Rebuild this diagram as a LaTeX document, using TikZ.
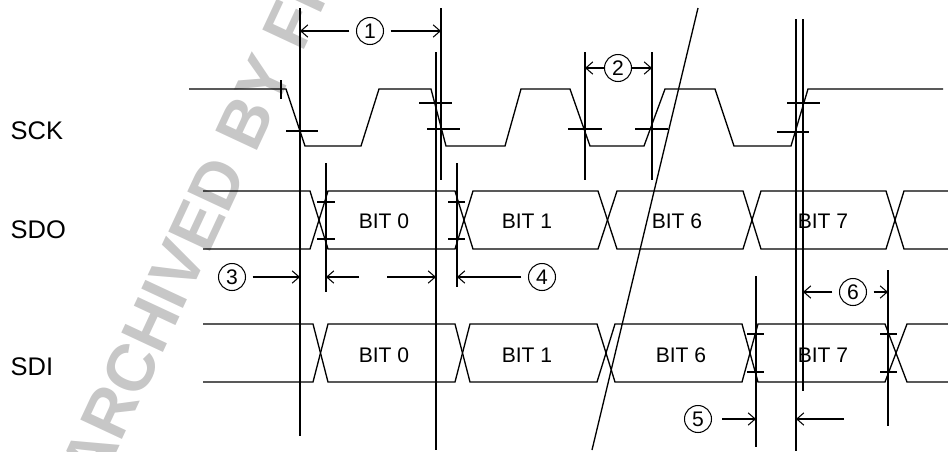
\documentclass[tikz,border=0pt]{standalone}
\usepackage{fontspec}
\setmainfont{Liberation Sans}
\usetikzlibrary{arrows.meta}

\begin{document}
\begin{tikzpicture}[x=0.02cm,y=-0.02cm,line width=0.75pt,
	num/.style={circle,draw,line width=0.6pt,minimum size=0.54cm,inner sep=0pt,outer sep=4pt,font=\fontsize{12}{12}\selectfont},
	bit/.style={font=\fontsize{12}{12}\selectfont},
	sig/.style={anchor=west,inner sep=0pt,font=\fontsize{14.5}{14.5}\selectfont},
	dim/.style={-{Straight Barb[length=4pt,width=7pt]},line width=0.6pt},
	wm/.style={black!22,anchor=base west,rotate=65,inner sep=0pt,font=\bfseries\fontsize{38}{38}\selectfont}]
	\useasboundingbox (0,0) rectangle (948,451);
	\clip (0,0) rectangle (948,451);
	% watermark
	\node[wm] (mark) at (100,488) {ARCHIVED BY FREESCALE};
	% signal names
	\node[sig] (sck) at (10,131) {SCK};
	\node[sig] (sdo) at (10,230) {SDO};
	\node[sig] (sdi) at (10,367) {SDI};
	% SCK
	\draw (189,89) -- (286,89) -- (305,146) -- (361,146) -- (379,89) -- (431,89) -- (446,146) -- (505,146) -- (521,89) -- (570,89) -- (590,146) -- (644,146) -- (665,89) -- (715,89) -- (734,146) -- (791,146) -- (808,89) -- (943,89);
	\draw (281,80) -- (281,99);
	\draw (286,131) -- (318,131);
	\draw (419,103) -- (452,103) (427,129) -- (460,129);
	\draw (568,129) -- (602,129);
	\draw (635,129) -- (668,129);
	\draw (787,103) -- (820,103) (777,132) -- (809,132);
	% SDO
	\draw (203,191) -- (310,191) -- (328,249) -- (455,249) -- (473,191) -- (598,191) -- (617,249) -- (743,249) -- (761,191) -- (886,191) -- (904,249) -- (948,249);
	\draw (203,249) -- (310,249) -- (328,191) -- (455,191) -- (473,249) -- (598,249) -- (617,191) -- (743,191) -- (761,249) -- (886,249) -- (904,191) -- (948,191);
	\draw (317,202) -- (335,202) (317,239) -- (335,239);
	\draw (448,202) -- (465,202) (448,239) -- (465,239);
	\node[bit] (o0) at (384,221) {BIT 0};
	\node[bit] (o1) at (527,221) {BIT 1};
	\node[bit] (o6) at (677,221) {BIT 6};
	\node[bit] (o7) at (823,221) {BIT 7};
	% SDI
	\draw (203,324) -- (313,324) -- (328,382) -- (455,382) -- (470,324) -- (597,324) -- (615,382) -- (742,382) -- (758,324) -- (885,324) -- (907,382) -- (948,382);
	\draw (203,382) -- (313,382) -- (328,324) -- (455,324) -- (470,382) -- (597,382) -- (615,324) -- (742,324) -- (758,382) -- (885,382) -- (907,324) -- (948,324);
	\draw (747,334) -- (764,334) (747,372) -- (764,372);
	\draw (880,334) -- (897,334) (880,372) -- (897,372);
	\node[bit] (i0) at (384,355) {BIT 0};
	\node[bit] (i1) at (527,355) {BIT 1};
	\node[bit] (i6) at (681,355) {BIT 6};
	\node[bit] (i7) at (823,355) {BIT 7};
	% reference lines
	\draw (300,8) coordinate (r1) -- (300,436);
	\draw (326,163) coordinate (r2) -- (326,292);
	\draw (441,8) coordinate (r3) -- (441,180);
	\draw (436,52) coordinate (r4) -- (436,450);
	\draw (457,163) coordinate (r5) -- (457,287);
	\draw (585,52) coordinate (r6) -- (585,180);
	\draw (652,52) coordinate (r7) -- (652,180);
	\draw (796,19) coordinate (r8) -- (796,451);
	\draw (803,19) coordinate (r9) -- (803,391);
	\draw (756,276) coordinate (r10) -- (756,447);
	\draw (888,270) coordinate (r11) -- (888,426);
	\draw (698,8) -- (592,450);
	% timing marks
	\node[num] (t1) at (370,31) {1};
	\node[num,outer sep=0.5pt] (t2) at (618,68) {2};
	\node[num] (t3) at (232,277) {3};
	\node[num] (t4) at (542,277) {4};
	\node[num,outer sep=6pt] (t5) at (698,419) {5};
	\node[num] (t6) at (853,292) {6};
	\draw[dim] (t1) -- (t1 -| r1);
	\draw[dim] (t1) -- (t1 -| r3);
	\draw[dim] (t2) -- (t2 -| r6);
	\draw[dim] (t2) -- (t2 -| r7);
	\draw[dim] (t3) -- (t3 -| r1);
	\draw[dim] (t4) -- (t4 -| r5);
	\draw[dim] (t5) -- (t5 -| r10);
	\draw[dim] (t6) -- (t6 -| r9);
	\draw[dim] (t6) -- (t6 -| r11);
	\coordinate (g1) at (359,277);
	\coordinate (g2) at (387,277);
	\coordinate (g3) at (844,419);
	\draw[dim] (g1) -- (g1 -| r2);
	\draw[dim] (g2) -- (g2 -| r4);
	\draw[dim] (g3) -- (g3 -| r8);
\end{tikzpicture}
\end{document}
